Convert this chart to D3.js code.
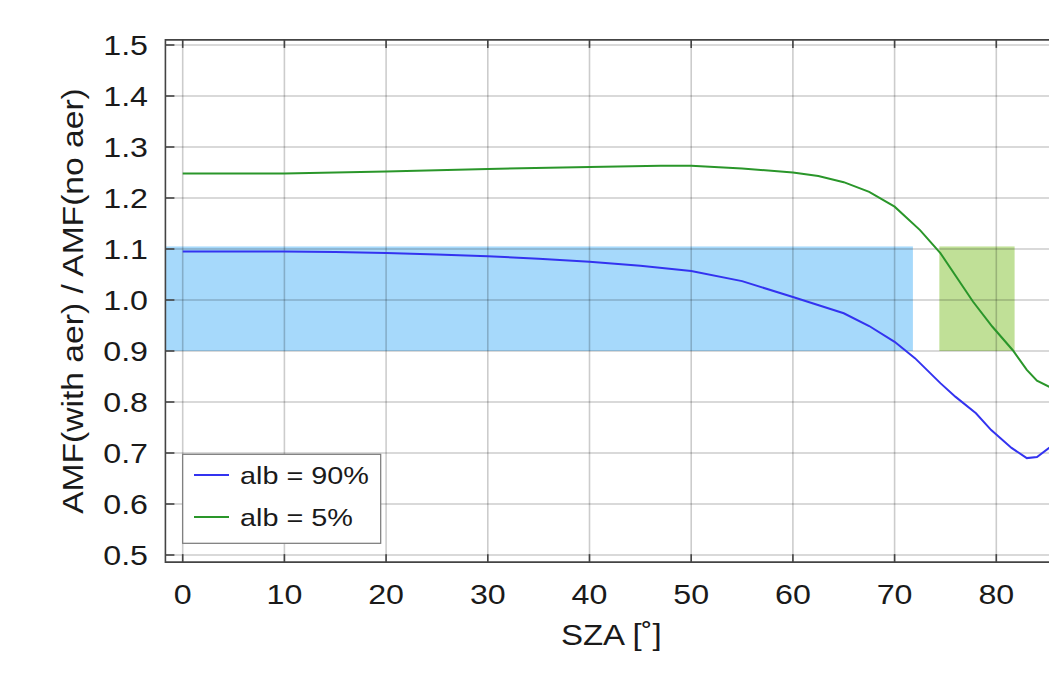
<!DOCTYPE html>
<html>
<head>
<meta charset="utf-8">
<script src="https://cdn.jsdelivr.net/npm/d3@7"></script>
<style>
  body { margin: 0; background: #fff; }
  text { font-family: "Liberation Sans", Arial, Helvetica, sans-serif; fill: #1a1a1a; }
</style>
</head>
<body>
<svg id="chart" width="1049" height="686"></svg>
<script>
// solar zenith angle samples for each curve
var szaBlue  = [0, 5, 10, 15, 20, 25, 30, 35, 40, 45, 50, 55, 60, 62, 65, 67.5, 70, 72, 74.5, 76, 78, 79.5, 81.5, 83, 84, 85.2, 86];
var alb90    = [1.095, 1.095, 1.095, 1.094, 1.092, 1.089, 1.086, 1.081, 1.075, 1.067, 1.057, 1.037, 1.006, 0.993, 0.974, 0.949, 0.918, 0.886, 0.837, 0.81, 0.778, 0.745, 0.71, 0.69, 0.692, 0.71, 0.725];
var szaGreen = [0, 10, 20, 30, 40, 47, 50, 55, 60, 62.5, 65, 67.5, 70, 72.5, 74.5, 77.7, 79.6, 81.6, 83, 84, 85.2, 86];
var alb5     = [1.248, 1.248, 1.252, 1.257, 1.261, 1.263, 1.263, 1.258, 1.25, 1.243, 1.231, 1.212, 1.183, 1.137, 1.092, 0.997, 0.948, 0.902, 0.863, 0.842, 0.83, 0.826];

// shaded ranges: [x0, x1, y0, y1]
var blueBand  = [-1.7, 71.8, 0.9, 1.105];
var greenBand = [74.4, 81.8, 0.9, 1.105];

var xTicks = [0, 10, 20, 30, 40, 50, 60, 70, 80];
var yTicks = [0.5, 0.6, 0.7, 0.8, 0.9, 1.0, 1.1, 1.2, 1.3, 1.4, 1.5];
var legendLabels = ["alb = 90%", "alb = 5%"];
var lineColors = ["#3333f0", "#2a962a"];

var xMin = -1.7, xMax = 86, yMin = 0.486, yMax = 1.51;
var stretch = 1.15;

var x = d3.scaleLinear().domain([0, 80]).range([182.7, 996.3]);
var y = d3.scaleLinear().domain([0.5, 1.5]).range([555, 45]);

var svg = d3.select("#chart");
var pLeft = x(xMin), pRight = x(xMax), pTop = y(yMax), pBottom = y(yMin);

svg.append("clipPath").attr("id", "plotclip")
  .append("rect").attr("x", pLeft).attr("y", pTop)
  .attr("width", pRight - pLeft).attr("height", pBottom - pTop);

var plot = svg.append("g").attr("clip-path", "url(#plotclip)");

// bands
plot.append("rect")
  .attr("x", x(blueBand[0])).attr("width", x(blueBand[1]) - x(blueBand[0]))
  .attr("y", y(blueBand[3])).attr("height", y(blueBand[2]) - y(blueBand[3]))
  .attr("fill", "#a6d9fb");
plot.append("rect")
  .attr("x", x(greenBand[0])).attr("width", x(greenBand[1]) - x(greenBand[0]))
  .attr("y", y(greenBand[3])).attr("height", y(greenBand[2]) - y(greenBand[3]))
  .attr("fill", "#c0e097");

// grid
plot.selectAll(".gx").data(xTicks).enter().append("line")
  .attr("x1", d => x(d)).attr("x2", d => x(d))
  .attr("y1", pTop).attr("y2", pBottom)
  .attr("stroke", "rgba(0,0,0,0.2)").attr("stroke-width", 1.6);
plot.selectAll(".gy").data(yTicks).enter().append("line")
  .attr("x1", pLeft).attr("x2", pRight)
  .attr("y1", d => y(d)).attr("y2", d => y(d))
  .attr("stroke", "rgba(0,0,0,0.2)").attr("stroke-width", 1.6);

// curves
var line = d3.line().x(d => x(d[0])).y(d => y(d[1]));
plot.append("path").datum(d3.zip(szaBlue, alb90))
  .attr("d", line).attr("fill", "none")
  .attr("stroke", lineColors[0]).attr("stroke-width", 2);
plot.append("path").datum(d3.zip(szaGreen, alb5))
  .attr("d", line).attr("fill", "none")
  .attr("stroke", lineColors[1]).attr("stroke-width", 2);

// frame
var frame = svg.append("g").attr("stroke", "#444").attr("stroke-width", 1.6).attr("fill", "none");
frame.append("path").attr("d", `M${pRight},${pTop}H${pLeft}V${pBottom}H${pRight}`);

// inner ticks
frame.selectAll(".tb").data(xTicks).enter().append("line")
  .attr("x1", d => x(d)).attr("x2", d => x(d)).attr("y1", pBottom).attr("y2", pBottom - 8);
frame.selectAll(".tt").data(xTicks).enter().append("line")
  .attr("x1", d => x(d)).attr("x2", d => x(d)).attr("y1", pTop).attr("y2", pTop + 8);
frame.selectAll(".tl").data(yTicks).enter().append("line")
  .attr("x1", pLeft).attr("x2", pLeft + 9).attr("y1", d => y(d)).attr("y2", d => y(d));

// tick labels
svg.selectAll(".xl").data(xTicks).enter().append("text")
  .attr("transform", d => `translate(${x(d)},604) scale(${stretch},1)`)
  .attr("text-anchor", "middle").style("font-size", "28px")
  .text(d => d);
svg.selectAll(".yl").data(yTicks).enter().append("text")
  .attr("transform", d => `translate(148,${y(d) + 10}) scale(${stretch},1)`)
  .attr("text-anchor", "end").style("font-size", "28px")
  .text(d => d3.format(".1f")(d));

// axis titles
svg.append("text")
  .attr("transform", `translate(${(pLeft + pRight) / 2},645) scale(1.1,1)`)
  .attr("text-anchor", "middle").style("font-size", "30px")
  .text("SZA [˚]");
svg.append("text")
  .attr("transform", `translate(83,${(pTop + pBottom) / 2}) rotate(-90) scale(1.12,1)`)
  .attr("text-anchor", "middle").style("font-size", "30px")
  .text("AMF(with aer) / AMF(no aer)");

// legend
var lg = svg.append("g");
lg.append("rect").attr("x", 182.7).attr("y", 454.3).attr("width", 198).attr("height", 89)
  .attr("fill", "#fff").attr("stroke", "#777").attr("stroke-width", 1.2);
legendLabels.forEach((lab, i) => {
  var yy = 475 + i * 42;
  lg.append("line").attr("x1", 194).attr("x2", 229).attr("y1", yy).attr("y2", yy)
    .attr("stroke", lineColors[i]).attr("stroke-width", 2);
  lg.append("text")
    .attr("transform", `translate(240,${yy + 9}) scale(1.2,1)`)
    .style("font-size", "24px").text(lab);
});
</script>
</body>
</html>
